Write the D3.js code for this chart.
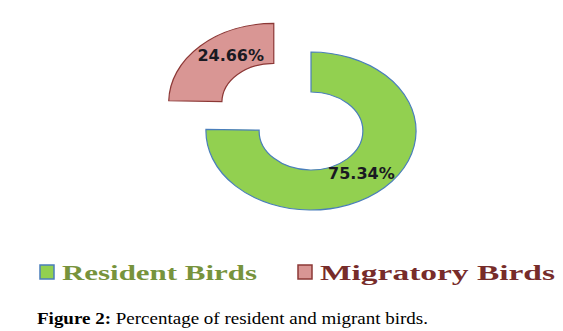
<!DOCTYPE html>
<html lang="en">

<head>
  <meta charset="utf-8">
  <title>Resident and migratory birds</title>
  <script src="https://d3js.org/d3.v7.min.js"></script>
  <style>
    body { margin: 0; background: #fff; }
    .lbl { font-family: "DejaVu Sans", sans-serif; font-weight: bold; font-size: 16px; fill: #1a1a22; }
    .leg { font-family: "Liberation Serif", serif; font-weight: bold; font-size: 21px; }
    .cap { font-family: "Liberation Serif", serif; font-size: 16.5px; fill: #000; }
  </style>
</head>

<body>
  <script>
    var categories = ['Resident Birds', 'Migratory Birds'];
    var values = [75.34, 24.66];
    var fills = ['#92d050', '#d99694'];
    var strokes = ['#4a7ebb', '#8c3836'];
    var textColors = ['#77933c', '#772c2a'];
    var exploded = [false, true];
    var labelAt = [0.51, 0.61]; // where along each slice the % label sits

    var w = 563, h = 331;
    var cx = 311, cy = 131; // centre of the (stretched) donut
    var R = 79, r = 39, sx = 1.33; // circle radii, then stretched in x
    var explodeBy = 40;

    var svg = d3.select('body').append('svg')
      .attr('width', w)
      .attr('height', h);

    var pie = d3.pie().sort(null).value(function(d){return d;});
    var arcs = pie(values);
    var arc = d3.arc().innerRadius(r).outerRadius(R);

    function offset(d, i) {
      if (!exploded[i]) return [0, 0];
      var mid = (d.startAngle + d.endAngle) / 2;
      return [Math.sin(mid) * explodeBy, -Math.cos(mid) * explodeBy];
    }
    function labelPos(d, i) {
      var a = d.startAngle + (d.endAngle - d.startAngle) * labelAt[i];
      var rr = 57, o = offset(d, i);
      return [cx + (Math.sin(a) * rr + o[0]) * sx, cy - Math.cos(a) * rr + o[1]];
    }

    var g = svg.append('g')
      .attr('transform', 'translate(' + [cx, cy] + ') scale(' + sx + ',1)');

    g.selectAll('.slice')
      .data(arcs)
    .enter().append('path')
      .attr('class', 'slice')
      .attr('transform', function(d, i){ return 'translate(' + offset(d, i) + ')'; })
      .attr('d', arc)
      .attr('vector-effect', 'non-scaling-stroke')
      .style('fill', function(d, i){ return fills[i]; })
      .style('stroke', function(d, i){ return strokes[i]; })
      .style('stroke-width', 1.2);

    // labels kept unstretched
    svg.selectAll('.lbl')
      .data(arcs)
    .enter().append('text')
      .attr('class', 'lbl')
      .attr('x', function(d, i){ return labelPos(d, i)[0]; })
      .attr('y', function(d, i){ return labelPos(d, i)[1]; })
      .attr('text-anchor', 'middle')
      .attr('dy', '0.35em')
      .text(function(d){ return d.value.toFixed(2) + '%'; });

    // legend
    var legX = [40, 298], legW = [195, 235];
    var leg = svg.selectAll('.legitem')
      .data(categories)
    .enter().append('g')
      .attr('class', 'legitem')
      .attr('transform', function(d, i){ return 'translate(' + [legX[i], 265] + ')'; });
    leg.append('rect')
      .attr('width', 14).attr('height', 14)
      .style('fill', function(d, i){ return fills[i]; })
      .style('stroke', function(d, i){ return strokes[i]; })
      .style('stroke-width', 1.5);
    leg.append('text')
      .attr('class', 'leg')
      .attr('x', 22).attr('y', 14.5)
      .attr('textLength', function(d, i){ return legW[i]; })
      .attr('lengthAdjust', 'spacingAndGlyphs')
      .style('fill', function(d, i){ return textColors[i]; })
      .text(function(d){ return d; });

    // caption
    var cap = svg.append('text').attr('class', 'cap').attr('x', 37).attr('y', 324)
      .attr('textLength', 391).attr('lengthAdjust', 'spacingAndGlyphs');
    cap.append('tspan').style('font-weight', 'bold').text('Figure 2:');
    cap.append('tspan').text(' Percentage of resident and migrant birds.');
  </script>
</body>

</html>
